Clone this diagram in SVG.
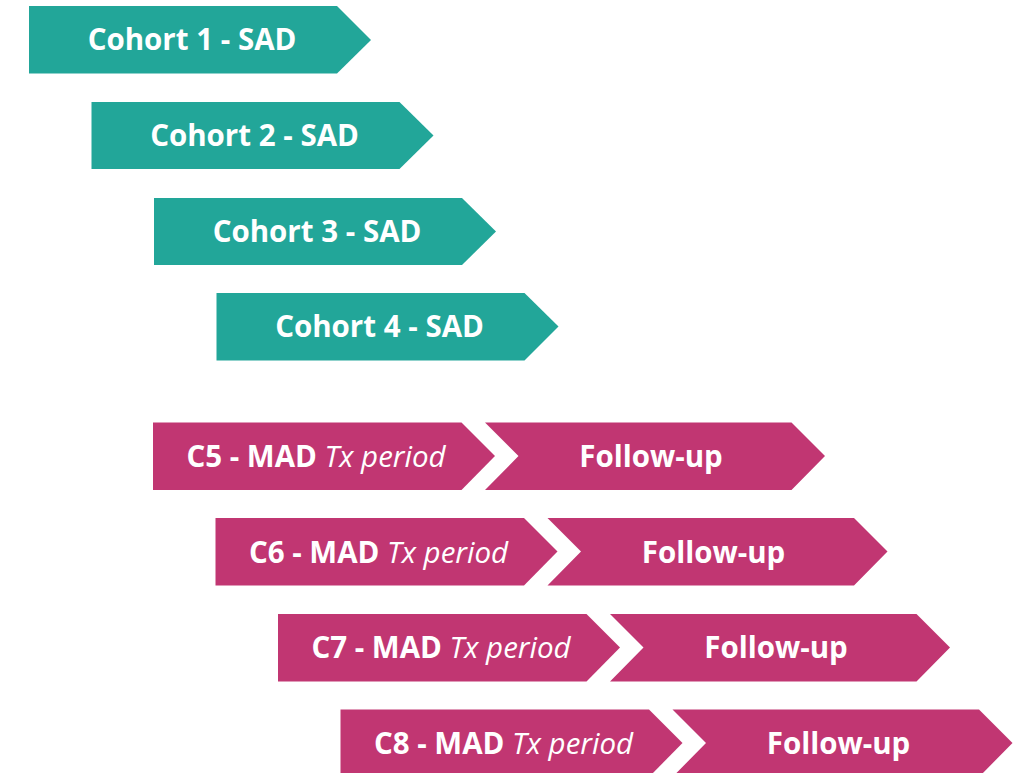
<svg xmlns="http://www.w3.org/2000/svg" width="1023" height="773" viewBox="0 0 1023 773">
<style>
.sad{fill:#22a699}
.mad{fill:#c13672}
.t{font-family:"Open Sans","Liberation Sans",sans-serif;font-size:29.5px;font-weight:bold;fill:#fff;text-anchor:middle}
.i{font-weight:normal;font-style:italic}
</style>
<rect width="1023" height="773" fill="#fff"/>
<g id="cohort1"><polygon class="sad" points="29,6 337,6 371,40 337,73.5 29,73.5"/><text class="t" x="192" y="50">Cohort 1 - SAD</text></g>
<g id="cohort2"><polygon class="sad" points="91.5,102 399.5,102 433.5,135.5 399.5,169 91.5,169"/><text class="t" x="254.5" y="146">Cohort 2 - SAD</text></g>
<g id="cohort3"><polygon class="sad" points="154,198 462,198 496,231.5 462,265 154,265"/><text class="t" x="317" y="242">Cohort 3 - SAD</text></g>
<g id="cohort4"><polygon class="sad" points="216.5,293 524.5,293 558.5,326.5 524.5,360.5 216.5,360.5"/><text class="t" x="379.5" y="337">Cohort 4 - SAD</text></g>
<g id="c5"><polygon class="mad" points="153,422.5 461.5,422.5 495,456 461.5,490 153,490"/><text class="t" x="316" y="467">C5 - MAD<tspan class="i"> Tx period</tspan></text></g>
<g id="c5f"><polygon class="mad" points="485,422.5 791.5,422.5 825,456 791.5,490 485,490 518.5,456"/><text class="t" x="651" y="467">Follow-up</text></g>
<g id="c6"><polygon class="mad" points="215.5,518 524,518 557.5,551.5 524,585.5 215.5,585.5"/><text class="t" x="378.5" y="562.5">C6 - MAD<tspan class="i"> Tx period</tspan></text></g>
<g id="c6f"><polygon class="mad" points="547.5,518 854,518 887.5,551.5 854,585.5 547.5,585.5 581,551.5"/><text class="t" x="713.5" y="562.5">Follow-up</text></g>
<g id="c7"><polygon class="mad" points="278,614 586.5,614 620,647.5 586.5,681.5 278,681.5"/><text class="t" x="441" y="658">C7 - MAD<tspan class="i"> Tx period</tspan></text></g>
<g id="c7f"><polygon class="mad" points="610,614 916.5,614 950,647.5 916.5,681.5 610,681.5 643.5,647.5"/><text class="t" x="776" y="658">Follow-up</text></g>
<g id="c8"><polygon class="mad" points="340.5,709.5 649,709.5 682.5,743 649,777 340.5,777"/><text class="t" x="503.5" y="754">C8 - MAD<tspan class="i"> Tx period</tspan></text></g>
<g id="c8f"><polygon class="mad" points="672.5,709.5 979,709.5 1012.5,743 979,777 672.5,777 706,743"/><text class="t" x="838.5" y="754">Follow-up</text></g>
<g id="connectors"></g>
</svg>
